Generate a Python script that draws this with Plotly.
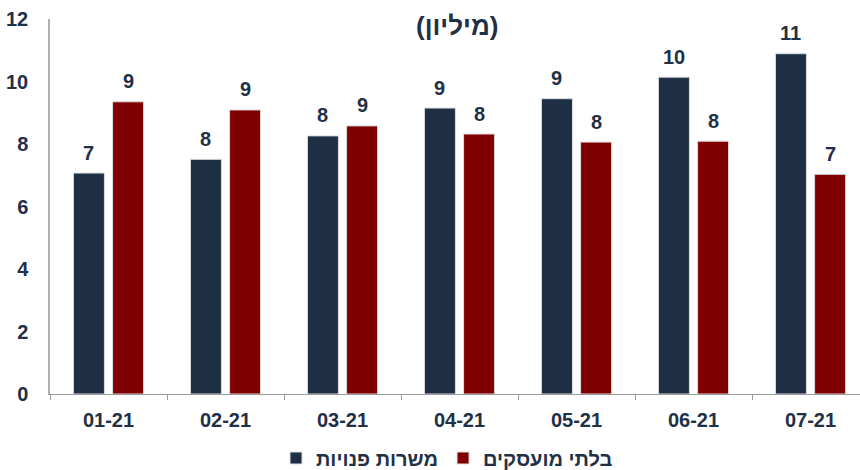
import plotly.graph_objects as go

# Monthly labour-market figures, millions
months = ["01-21", "02-21", "03-21", "04-21", "05-21", "06-21", "07-21"]
job_openings = [7.07, 7.51, 8.26, 9.15, 9.45, 10.14, 10.89]
unemployed = [9.35, 9.09, 8.58, 8.32, 8.06, 8.09, 7.03]

series_names = ["משרות פנויות", "בלתי מועסקים"]
unit_title = "(מיליון)"
y_ticks = [0, 2, 4, 6, 8, 10, 12]

NAVY = "#1D2E45"
RED = "#800000"
TEXT = "#1F3047"
FONT = "Liberation Sans, Arial, sans-serif"

fig = go.Figure()
fig.add_trace(go.Bar(
    x=months, y=job_openings, name=series_names[0],
    marker=dict(color=NAVY, line=dict(color="#dcdcdc", width=1)),
))
fig.add_trace(go.Bar(
    x=months, y=unemployed, name=series_names[1],
    marker=dict(color=RED, line=dict(color="#dcdcdc", width=1)),
))

# value labels above each bar, shifted onto its bar within the group
annotations = []
for vals, shift in ((job_openings, -19.6), (unemployed, 19.6)):
    for m, v in zip(months, vals):
        annotations.append(dict(
            x=m, y=v, xref="x", yref="y", text=f"{round(v)}",
            showarrow=False, xshift=shift, yshift=20.5, yanchor="middle",
            font=dict(family=FONT, size=20, color=TEXT, weight="bold"),
        ))

annotations.append(dict(
    x=0.502, y=0.981, xref="paper", yref="paper", text=unit_title,
    showarrow=False, xanchor="center", yanchor="middle",
    font=dict(family=FONT, size=26, color=TEXT, weight="bold"),
))

fig.update_layout(
    width=860, height=470,
    margin=dict(l=50, r=0, t=19, b=76, autoexpand=False),
    paper_bgcolor="white", plot_bgcolor="white",
    barmode="group", bargap=0.331, bargroupgap=0.208,
    font=dict(family=FONT, color=TEXT),
    showlegend=True,
    legend=dict(
        orientation="h", x=447 / 860, y=(470 - 458) / 470,
        xref="container", yref="container",
        xanchor="center", yanchor="middle",
        font=dict(family=FONT, size=20, color=TEXT, weight="bold"),
        itemwidth=30, traceorder="normal",
    ),
    annotations=annotations,
)

fig.update_xaxes(
    type="category", range=[-0.5, 6.423],
    showline=True, linecolor="#9a9a9a", linewidth=1,
    ticks="outside", tickson="boundaries", ticklen=5, tickcolor="#9a9a9a",
    showgrid=False, zeroline=False,
    tickfont=dict(family=FONT, size=20, color=TEXT, weight="bold"),
    ticklabelstandoff=8,
)
fig.update_yaxes(
    range=[0, 12], tickvals=y_ticks,
    showline=True, linecolor="#b0b0b0", linewidth=1.5,
    ticks="", showgrid=False, zeroline=False,
    tickfont=dict(family=FONT, size=20, color=TEXT, weight="bold"),
    ticklabelstandoff=16,
)

fig.write_html("out.html")
